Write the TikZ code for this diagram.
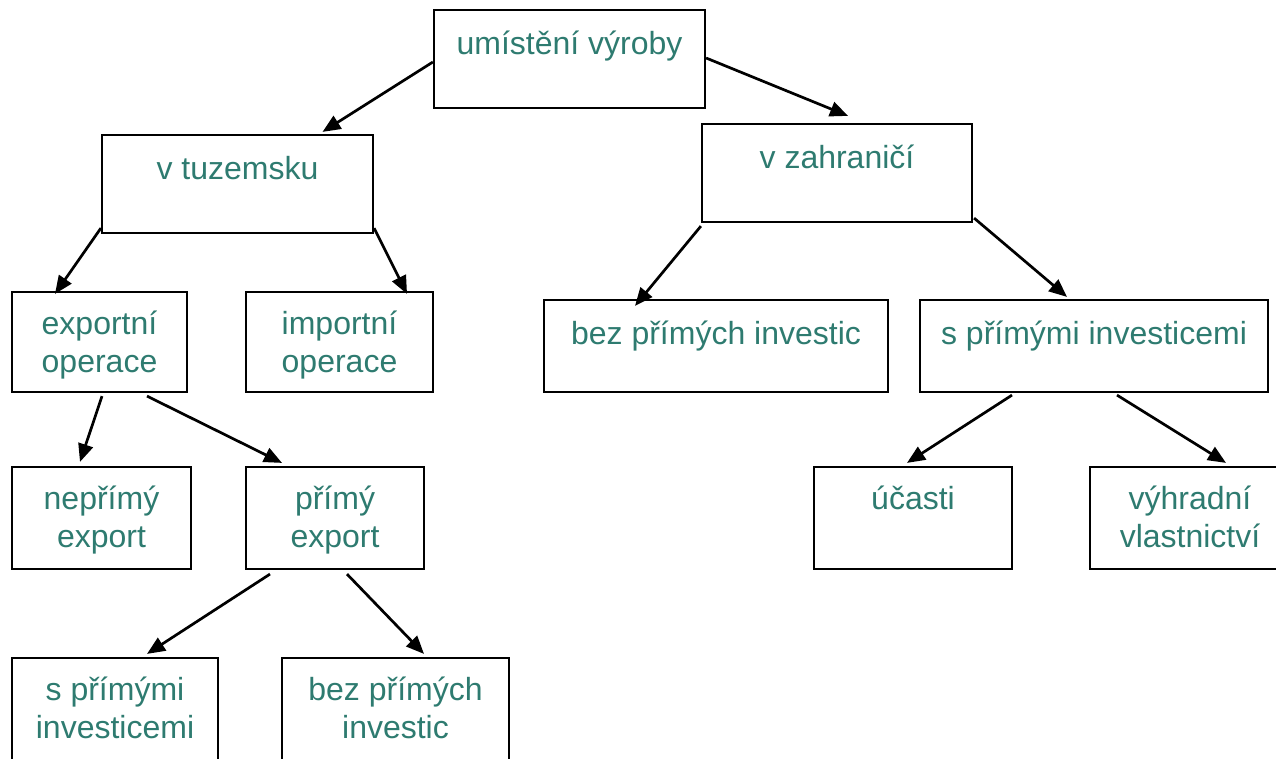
\documentclass[tikz,border=0pt]{standalone}
\usepackage{fontspec}
\setmainfont{Liberation Sans}
\usetikzlibrary{arrows.meta}
\definecolor{tealtext}{HTML}{2E7B70}
\tikzset{
  box/.style={draw=black, line width=2.2pt, rectangle, inner sep=0pt},
  lbl/.style={anchor=north, inner sep=0pt, align=center, text=tealtext, font=\fontsize{32}{38.5}\selectfont},
  conn/.style={line width=2.7pt, -{Triangle[length=18pt,width=15pt]}}
}
\newcommand{\fl}{\rule{0pt}{30pt}}
\begin{document}
\begin{tikzpicture}[x=1pt,y=-1pt]
\useasboundingbox (0,0) rectangle (1276,758);
\clip (0,0) rectangle (1276,758);
% boxes
\node[box, minimum width=271pt, minimum height=98pt] (top) at (569.5,59) {};
\node[box, minimum width=271pt, minimum height=98pt] (tuz) at (237.5,184) {};
\node[box, minimum width=270pt, minimum height=98pt] (zah) at (837,173) {};
\node[box, minimum width=175pt, minimum height=100pt] (exp) at (99.5,342) {};
\node[box, minimum width=187pt, minimum height=100pt] (imp) at (339.5,342) {};
\node[box, minimum width=344pt, minimum height=92pt] (bez) at (716,346) {};
\node[box, minimum width=348pt, minimum height=92pt] (spi) at (1094,346) {};
\node[box, minimum width=179pt, minimum height=102pt] (nep) at (101.5,518) {};
\node[box, minimum width=178pt, minimum height=102pt] (pri) at (335,518) {};
\node[box, minimum width=198pt, minimum height=102pt] (uca) at (913,518) {};
\node[box, minimum width=200pt, minimum height=102pt] (vyh) at (1190,518) {};
\node[box, minimum width=206pt, minimum height=110pt] (spb) at (115,713) {};
\node[box, minimum width=227pt, minimum height=110pt] (bpb) at (395.5,713) {};
% labels
\node[lbl] (topL) at ([yshift=-15pt]top.north) {\fl umístění výroby};
\node[lbl] (tuzL) at ([yshift=-15pt]tuz.north) {\fl v tuzemsku};
\node[lbl] (zahL) at ([yshift=-15pt]zah.north) {\fl v zahraničí};
\node[lbl] (expL) at ([yshift=-13pt]exp.north) {\fl exportní\\operace};
\node[lbl] (impL) at ([yshift=-13pt]imp.north) {\fl importní\\operace};
\node[lbl] (bezL) at ([yshift=-15pt]bez.north) {\fl bez přímých investic};
\node[lbl] (spiL) at ([yshift=-15pt]spi.north) {\fl s přímými investicemi};
\node[lbl] (nepL) at ([yshift=-13pt]nep.north) {\fl nepřímý\\export};
\node[lbl] (priL) at ([yshift=-13pt]pri.north) {\fl přímý\\export};
\node[lbl] (ucaL) at ([yshift=-13pt]uca.north) {\fl účasti};
\node[lbl] (vyhL) at ([yshift=-13pt]vyh.north) {\fl výhradní\\vlastnictví};
\node[lbl] (spbL) at ([yshift=-13pt]spb.north) {\fl s přímými\\investicemi};
\node[lbl] (bpbL) at ([yshift=-13pt]bpb.north) {\fl bez přímých\\investic};
% connectors
\draw[conn] ([yshift=-3pt]top.west) -- ([xshift=85pt,yshift=2pt]tuz.north);
\draw[conn] ([yshift=1pt]top.east) -- ([xshift=11pt,yshift=7pt]zah.north);
\draw[conn] ([yshift=6pt]tuz.south west) -- ([xshift=-44.5pt,yshift=-3pt]exp.north);
\draw[conn] ([yshift=6pt]tuz.south east) -- ([xshift=67.5pt,yshift=-3pt]imp.north);
\draw[conn] ([yshift=-3pt]zah.south west) -- ([xshift=-81pt,yshift=-7pt]bez.north);
\draw[conn] ([xshift=1pt,yshift=5pt]zah.south east) -- ([xshift=-27pt,yshift=2pt]spi.north);
\draw[conn] ([xshift=2.5pt,yshift=-3pt]exp.south) -- ([xshift=-21.5pt,yshift=4pt]nep.north);
\draw[conn] ([xshift=47.5pt,yshift=-3pt]exp.south) -- ([xshift=-53pt,yshift=3pt]pri.north);
\draw[conn] ([xshift=-82pt,yshift=-2pt]spi.south) -- ([xshift=-6pt,yshift=3pt]uca.north);
\draw[conn] ([xshift=23pt,yshift=-2pt]spi.south) -- ([xshift=36pt,yshift=3pt]vyh.north);
\draw[conn] ([xshift=-65pt,yshift=-4pt]pri.south) -- ([xshift=32pt,yshift=3pt]spb.north);
\draw[conn] ([xshift=12pt,yshift=-4pt]pri.south) -- ([xshift=28.5pt,yshift=3pt]bpb.north);
\end{tikzpicture}
\end{document}
